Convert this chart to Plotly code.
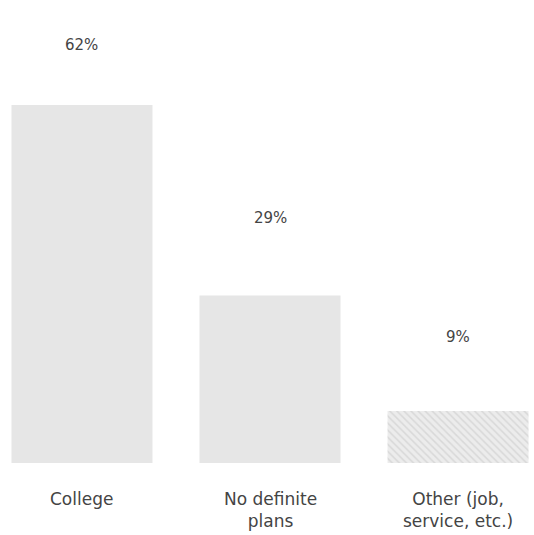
import plotly.graph_objects as go

categories = ["College", "No definite<br>plans", "Other (job,<br>service, etc.)"]
values = [62, 29, 9]
value_labels = ["62%", "29%", "9%"]
patterns = ["", "", "\\"]

fig = go.Figure()
fig.add_trace(go.Bar(
    x=[0, 1, 2],
    y=values,
    width=0.75,
    marker=dict(
        color="#e6e6e6",
        line=dict(width=0),
        pattern=dict(shape=patterns, fgcolor="#c4c4c4", bgcolor="#ececec", size=5, solidity=0.3),
    ),
    hoverinfo="skip",
))

font_family = "DejaVu Sans, sans-serif"
label_shift = [60, 78, 74]
for i, (v, t) in enumerate(zip(values, value_labels)):
    fig.add_annotation(x=i, y=v, text=t, showarrow=False, yanchor="middle",
                       yshift=label_shift[i], font=dict(family=font_family, size=15, color="#444444"))
for i, c in enumerate(categories):
    fig.add_annotation(x=i, y=0, text=c, showarrow=False, yanchor="top",
                       yshift=-24, font=dict(family=font_family, size=17, color="#444444"))

fig.update_layout(
    width=534, height=535,
    margin=dict(l=0, r=0, t=0, b=72),
    paper_bgcolor="white", plot_bgcolor="white",
    showlegend=False,
    xaxis=dict(range=[-0.436, 2.404], visible=False),
    yaxis=dict(range=[0, 80.2], visible=False),
)
fig.write_html("out.html", config={"displayModeBar": False},
               post_script="document.body.style.margin='0';document.body.style.overflow='hidden';")
